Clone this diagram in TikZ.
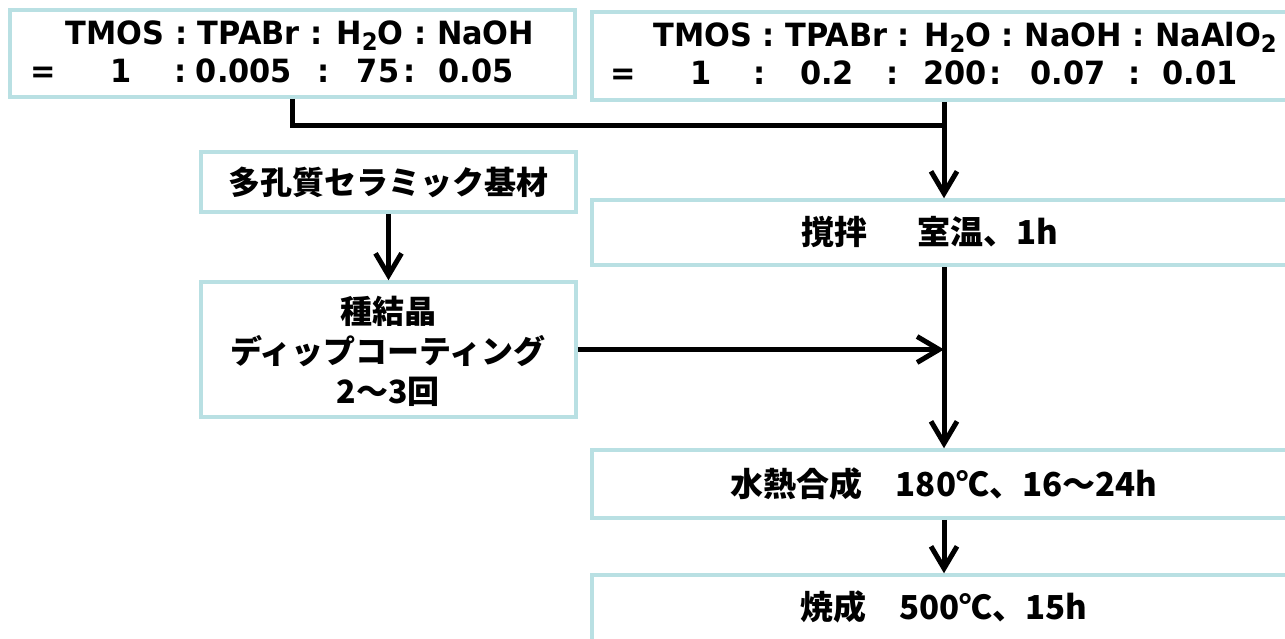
\documentclass[tikz,border=0pt]{standalone}
\usepackage{fontspec}
\usepackage{graphicx}
\setmainfont{DejaVu Sans}
\newfontfamily\jp{Noto Sans CJK JP}
\usetikzlibrary{arrows.meta,fit}
\definecolor{boxc}{HTML}{B9E0E3}
\newcommand\mysub[1]{\raisebox{-0.35ex}{\fontsize{12}{12}\selectfont #1}}
\newcommand\sqz[1]{\scalebox{0.95}[1]{#1}}
\tikzset{
  box/.style={draw=boxc, line width=1.75pt, inner sep=0pt, fill=white},
  lat/.style={font=\fontsize{16}{18}\selectfont\bfseries, inner sep=0pt, anchor=base},
  jps/.style={font=\jp\bfseries\fontsize{16}{20}\selectfont, inner sep=0pt, align=center},
  jpl/.style={font=\jp\bfseries\fontsize{16.5}{20}\selectfont, inner sep=0pt},
  conn/.style={line width=2.5pt},
  arr/.style={conn, -{Straight Barb[length=11pt,width=13pt]}}
}
\begin{document}
\begin{tikzpicture}[x=0.5pt,y=-0.5pt]
\clip (0,0) rectangle (1285,638);
% boxes
\node[box, fit={(10,10) (575,97)}] (A) {};
\node[box, fit={(592,12) (1296,100)}] (B) {};
\node[box, fit={(201,152) (576,212)}] (D) {};
\node[box, fit={(201,282) (576,417)}] (E) {};
\node[box, fit={(592,200) (1296,265)}] (C) {};
\node[box, fit={(592,450) (1296,518)}] (F) {};
\node[box, fit={(592,575) (1296,645)}] (G) {};
% top texts
\node[lat] (a0) at (300,44) {\sqz{TMOS : TPABr : H\mysub{2}O : NaOH}};
\foreach \t/\x [count=\i] in {=/43, 1/121, :/181, 0.005/244, :/324, 75/378, :/410, 0.05/476}
  \node[lat] (a\i) at (\x,82) {\sqz{\t}};
\node[lat] (b0) at (965,46) {\sqz{TMOS : TPABr : H\mysub{2}O : NaOH : NaAlO\mysub{2}}};
\foreach \t/\x [count=\i] in {=/623, 1/701, :/760, 0.2/827, :/893, 200/955, :/996, 0.07/1068, :/1135, 0.01/1200}
  \node[lat] (b\i) at (\x,84) {\sqz{\t}};
% other texts
\node[jps] (Dt) at (D) {多孔質セラミック基材};
\node[jps] (Et) at (388,351) {種結晶\\ディップコーティング\\2～3回};
\node[jpl] (Ct) at (930,232) {撹拌　\hspace{0.5em}室温、1h};
\node[jpl] (Ft) at (F) {水熱合成　180℃、16～24h};
\node[jpl] (Gt) at (944,607) {焼成　500℃、15h};
% connectors
\coordinate (J) at (B.south |- 0,125);
\draw[conn] (A.south) |- (J);
\draw[arr] (B.south) -- (C.north);
\draw[arr] (D.south) -- (E.north);
\draw[arr] (E.east) -- (C.south |- E.east);
\draw[arr] (C.south) -- (F.north);
\draw[arr] (F.south) -- (G.north);
\end{tikzpicture}
\end{document}
